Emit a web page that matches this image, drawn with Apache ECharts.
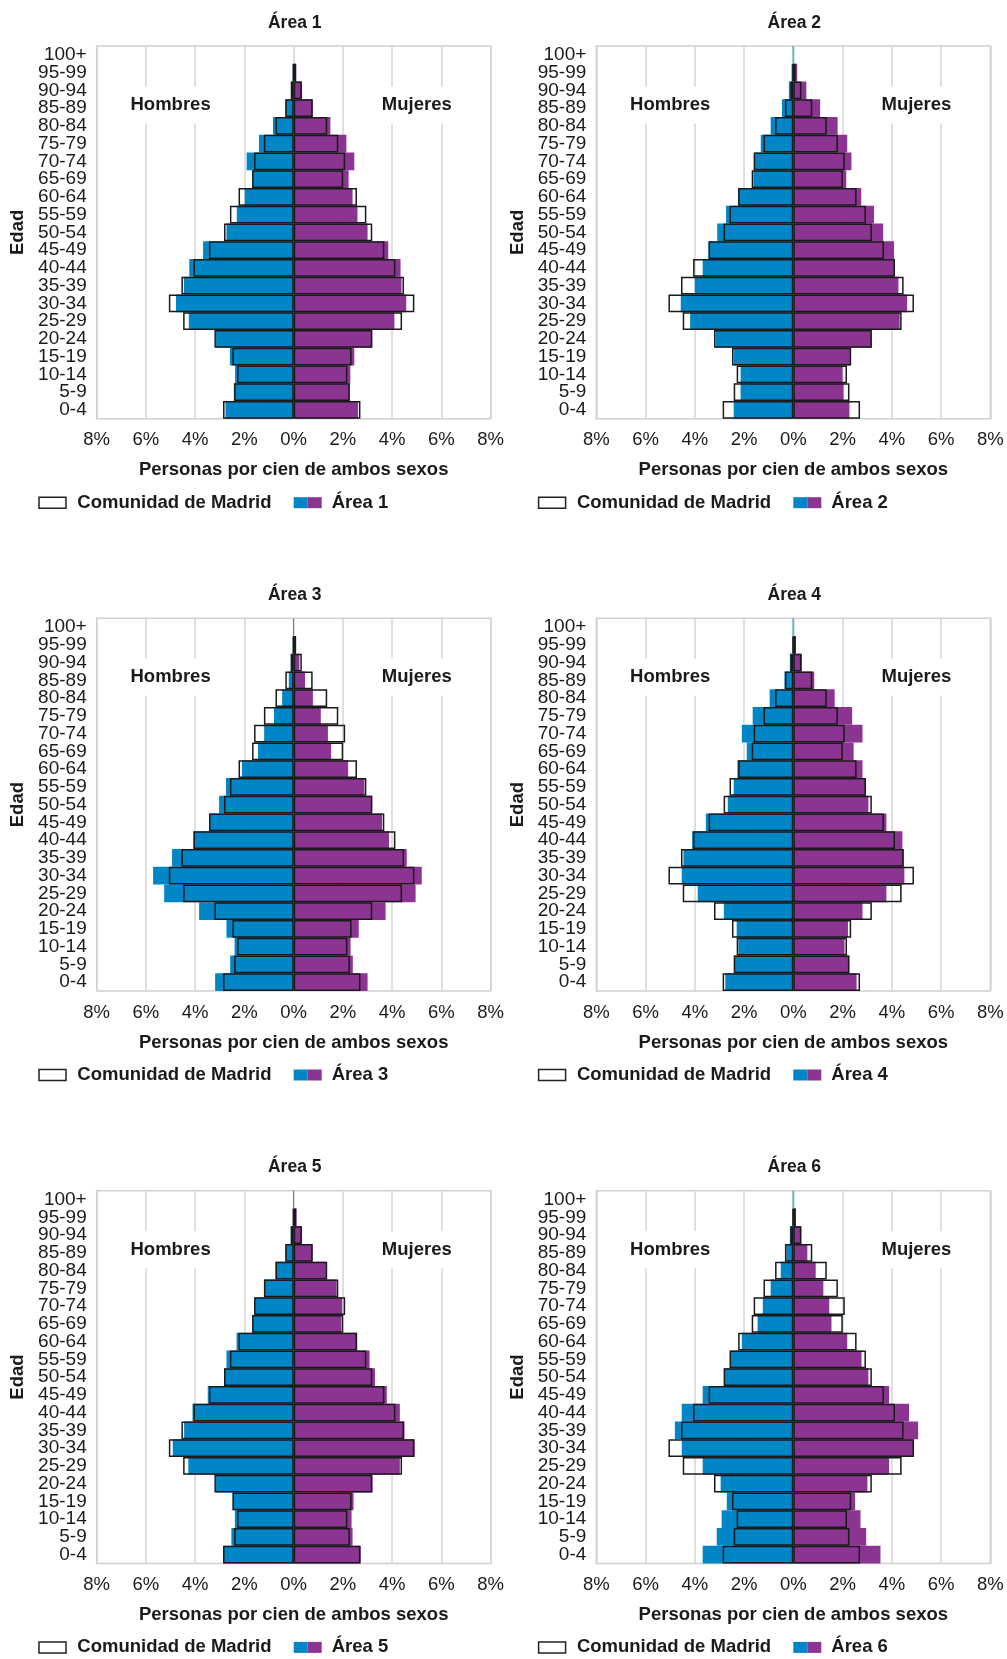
<!DOCTYPE html>
<html><head><meta charset="utf-8">
<script src="https://cdn.jsdelivr.net/npm/echarts@6/dist/echarts.min.js"></script>
<style>html,body{margin:0;padding:0;background:#fff}#c{width:1007px;height:1659px}</style>
</head><body><div id="c"></div>
<script>
// ---- DATA (bottom age group first) ----
const ages = ['0-4','5-9','10-14','15-19','20-24','25-29','30-34','35-39','40-44','45-49','50-54','55-59','60-64','65-69','70-74','75-79','80-84','85-89','90-94','95-99','100+'];
const xTicks = [-8,-6,-4,-2,0,2,4,6,8];

const madridMen   = [2.87,2.42,2.30,2.49,3.22,4.49,5.07,4.56,4.07,3.44,2.83,2.59,2.24,1.69,1.61,1.21,0.74,0.34,0.12,0.03,null];
const madridWomen = [2.71,2.28,2.18,2.35,3.19,4.40,4.90,4.48,4.13,3.68,3.19,2.95,2.57,2.01,2.09,1.81,1.36,0.77,0.33,0.10,null];

const area1Men   = [2.77,2.43,2.38,2.59,3.16,4.26,4.78,4.46,4.24,3.68,2.73,2.31,1.99,1.69,1.91,1.41,0.84,0.34,0.11,0.04,0];
const area1Women = [2.61,2.27,2.30,2.46,3.19,4.09,4.57,4.38,4.34,3.84,3.00,2.59,2.39,2.23,2.46,2.14,1.49,0.78,0.34,0.10,0];
const area2Men   = [2.42,2.14,2.14,2.42,3.15,4.19,4.57,4.00,3.68,3.45,3.09,2.73,2.24,1.62,1.59,1.32,0.92,0.46,0.18,0.07,0.03];
const area2Women = [2.28,2.04,2.00,2.30,3.18,4.32,4.62,4.27,4.12,4.09,3.65,3.28,2.76,2.15,2.36,2.19,1.80,1.09,0.53,0.16,0.01];
const area3Men   = [3.19,2.58,2.40,2.73,3.84,5.26,5.71,4.94,4.07,3.42,3.03,2.75,2.10,1.45,1.20,0.80,0.47,0.20,0.12,0.04,0.03];
const area3Women = [3.00,2.40,2.31,2.64,3.73,4.95,5.20,4.59,3.87,3.59,3.19,2.87,2.21,1.52,1.39,1.10,0.78,0.46,0.23,0.09,0.01];
const area4Men   = [2.76,2.41,2.23,2.30,2.82,3.88,4.53,4.46,4.11,3.55,2.66,2.42,2.27,1.89,2.09,1.65,0.96,0.36,0.14,0.03,0.03];
const area4Women = [2.57,2.27,2.08,2.22,2.81,3.78,4.51,4.49,4.43,3.78,3.05,2.95,2.81,2.45,2.81,2.39,1.68,0.85,0.35,0.10,0.01];
const area5Men   = [2.85,2.53,2.39,2.47,3.16,4.28,4.91,4.45,4.11,3.49,2.82,2.73,2.32,1.68,1.58,1.20,0.74,0.34,0.12,0.03,0.03];
const area5Women = [2.72,2.39,2.35,2.43,3.20,4.31,4.91,4.50,4.31,3.78,3.30,3.08,2.58,1.93,1.97,1.74,1.31,0.77,0.34,0.12,0.01];
const area6Men   = [3.68,3.11,2.91,2.70,2.95,3.68,4.53,4.81,4.53,3.68,2.81,2.55,2.09,1.45,1.24,0.92,0.51,0.28,0.14,0.03,0.03];
const area6Women = [3.54,2.96,2.73,2.51,3.01,3.89,4.88,5.07,4.70,3.89,3.05,2.77,2.19,1.55,1.46,1.22,0.91,0.57,0.32,0.10,0.01];

const areaNames = ['Área 1','Área 2','Área 3','Área 4','Área 5','Área 6'];
const areasMen = [area1Men,area2Men,area3Men,area4Men,area5Men,area6Men];
const areasWomen = [area1Women,area2Women,area3Women,area4Women,area5Women,area6Women];

// ---- STYLE / LAYOUT ----
const FONT = '"Liberation Sans", Arial, sans-serif';
const FS = 18.5;
const BLUE = '#0086C6', PURPLE = '#8B3491', TXT = '#1a1a1a';
const colLeft = [96.7, 596.3], rowTop = [46, 618.3, 1190.7];
const W = 394, H = 372.7;

const grids = [], xAxes = [], yAxes = [], series = [], graphics = [];
for (let i = 0; i < 6; i++) {
  const L = colLeft[i % 2], T = rowTop[Math.floor(i / 2)], B = T + H, C = L + W / 2;
  grids.push({left: L, top: T, width: W, height: H, show: true, borderColor: '#d0d0d0', borderWidth: 1.5, backgroundColor: 'transparent', containLabel: false});
  xAxes.push({
    type: 'value', gridIndex: i, min: xTicks[0], max: xTicks[xTicks.length - 1], interval: 2,
    axisLine: {show: false}, axisTick: {show: false},
    splitLine: {show: true, lineStyle: {color: '#d4d4d4', width: 1.5}},
    axisLabel: {formatter: v => Math.abs(v) + '%', fontFamily: FONT, fontSize: FS, color: TXT, margin: 12},
    name: 'Personas por cien de ambos sexos', nameLocation: 'middle', nameGap: 42,
    nameTextStyle: {fontFamily: FONT, fontSize: FS, fontWeight: 'bold', color: TXT}
  });
  yAxes.push({
    type: 'category', gridIndex: i, data: ages,
    axisLine: {show: false}, axisTick: {show: false}, splitLine: {show: false},
    axisLabel: {fontFamily: FONT, fontSize: FS + 0.5, color: TXT, margin: 10, interval: 0},
    name: 'Edad', nameLocation: 'middle', nameRotate: 90, nameGap: 69,
    nameTextStyle: {fontFamily: FONT, fontSize: FS, fontWeight: 'bold', color: TXT}
  });
  const common = {type: 'bar', xAxisIndex: i, yAxisIndex: i, barCategoryGap: '0%', barGap: '-100%', silent: true};
  series.push(Object.assign({}, common, {name: areaNames[i] + ' H', stack: 'a' + i, data: areasMen[i].map(v => v == null ? null : -v), itemStyle: {color: BLUE}}));
  series.push(Object.assign({}, common, {name: areaNames[i] + ' M', stack: 'a' + i, data: areasWomen[i].slice(), itemStyle: {color: PURPLE}}));
  series.push(Object.assign({}, common, {name: 'Madrid H', stack: 'm' + i, data: madridMen.map(v => v == null ? null : -v), itemStyle: {color: 'rgba(0,0,0,0)', borderColor: '#1a1a1a', borderWidth: 1.5}, z: 3}));
  series.push(Object.assign({}, common, {name: 'Madrid M', stack: 'm' + i, data: madridWomen.slice(), itemStyle: {color: 'rgba(0,0,0,0)', borderColor: '#1a1a1a', borderWidth: 1.5}, z: 3}));

  // title
  graphics.push({type: 'text', z: 10, x: C + 1, y: T - 23.3, style: {text: areaNames[i], font: 'bold 17.5px ' + FONT, fill: TXT, align: 'center', verticalAlign: 'middle'}});
  // Hombres / Mujeres
  graphics.push({type: 'text', z: 10, x: C - W * 5 / 16, y: T + 59, style: {text: 'Hombres', font: 'bold ' + FS + 'px ' + FONT, fill: TXT, align: 'center', verticalAlign: 'middle', backgroundColor: '#fff', padding: [9, 6]}});
  graphics.push({type: 'text', z: 10, x: C + W * 5 / 16, y: T + 59, style: {text: 'Mujeres', font: 'bold ' + FS + 'px ' + FONT, fill: TXT, align: 'center', verticalAlign: 'middle', backgroundColor: '#fff', padding: [9, 6]}});
  // legend
  const ly = B + 84;
  graphics.push({type: 'rect', z: 10, shape: {x: L - 57.7, y: ly - 5.5, width: 27, height: 11}, style: {fill: '#fff', stroke: '#222', lineWidth: 1.5}});
  graphics.push({type: 'text', z: 10, x: L - 19.4, y: ly, style: {text: 'Comunidad de Madrid', font: 'bold ' + FS + 'px ' + FONT, fill: TXT, align: 'left', verticalAlign: 'middle'}});
  graphics.push({type: 'rect', z: 10, shape: {x: C, y: ly - 5.5, width: 14, height: 11}, style: {fill: BLUE}});
  graphics.push({type: 'rect', z: 10, shape: {x: C + 14, y: ly - 5.5, width: 14, height: 11}, style: {fill: PURPLE}});
  graphics.push({type: 'text', z: 10, x: C + 38, y: ly, style: {text: areaNames[i], font: 'bold ' + FS + 'px ' + FONT, fill: TXT, align: 'left', verticalAlign: 'middle'}});
}

const chart = echarts.init(document.getElementById('c'), null, {renderer: 'canvas'});
chart.setOption({
  animation: false,
  backgroundColor: '#fff',
  textStyle: {fontFamily: FONT},
  grid: grids, xAxis: xAxes, yAxis: yAxes, series: series, graphic: graphics
});
</script></body></html>
